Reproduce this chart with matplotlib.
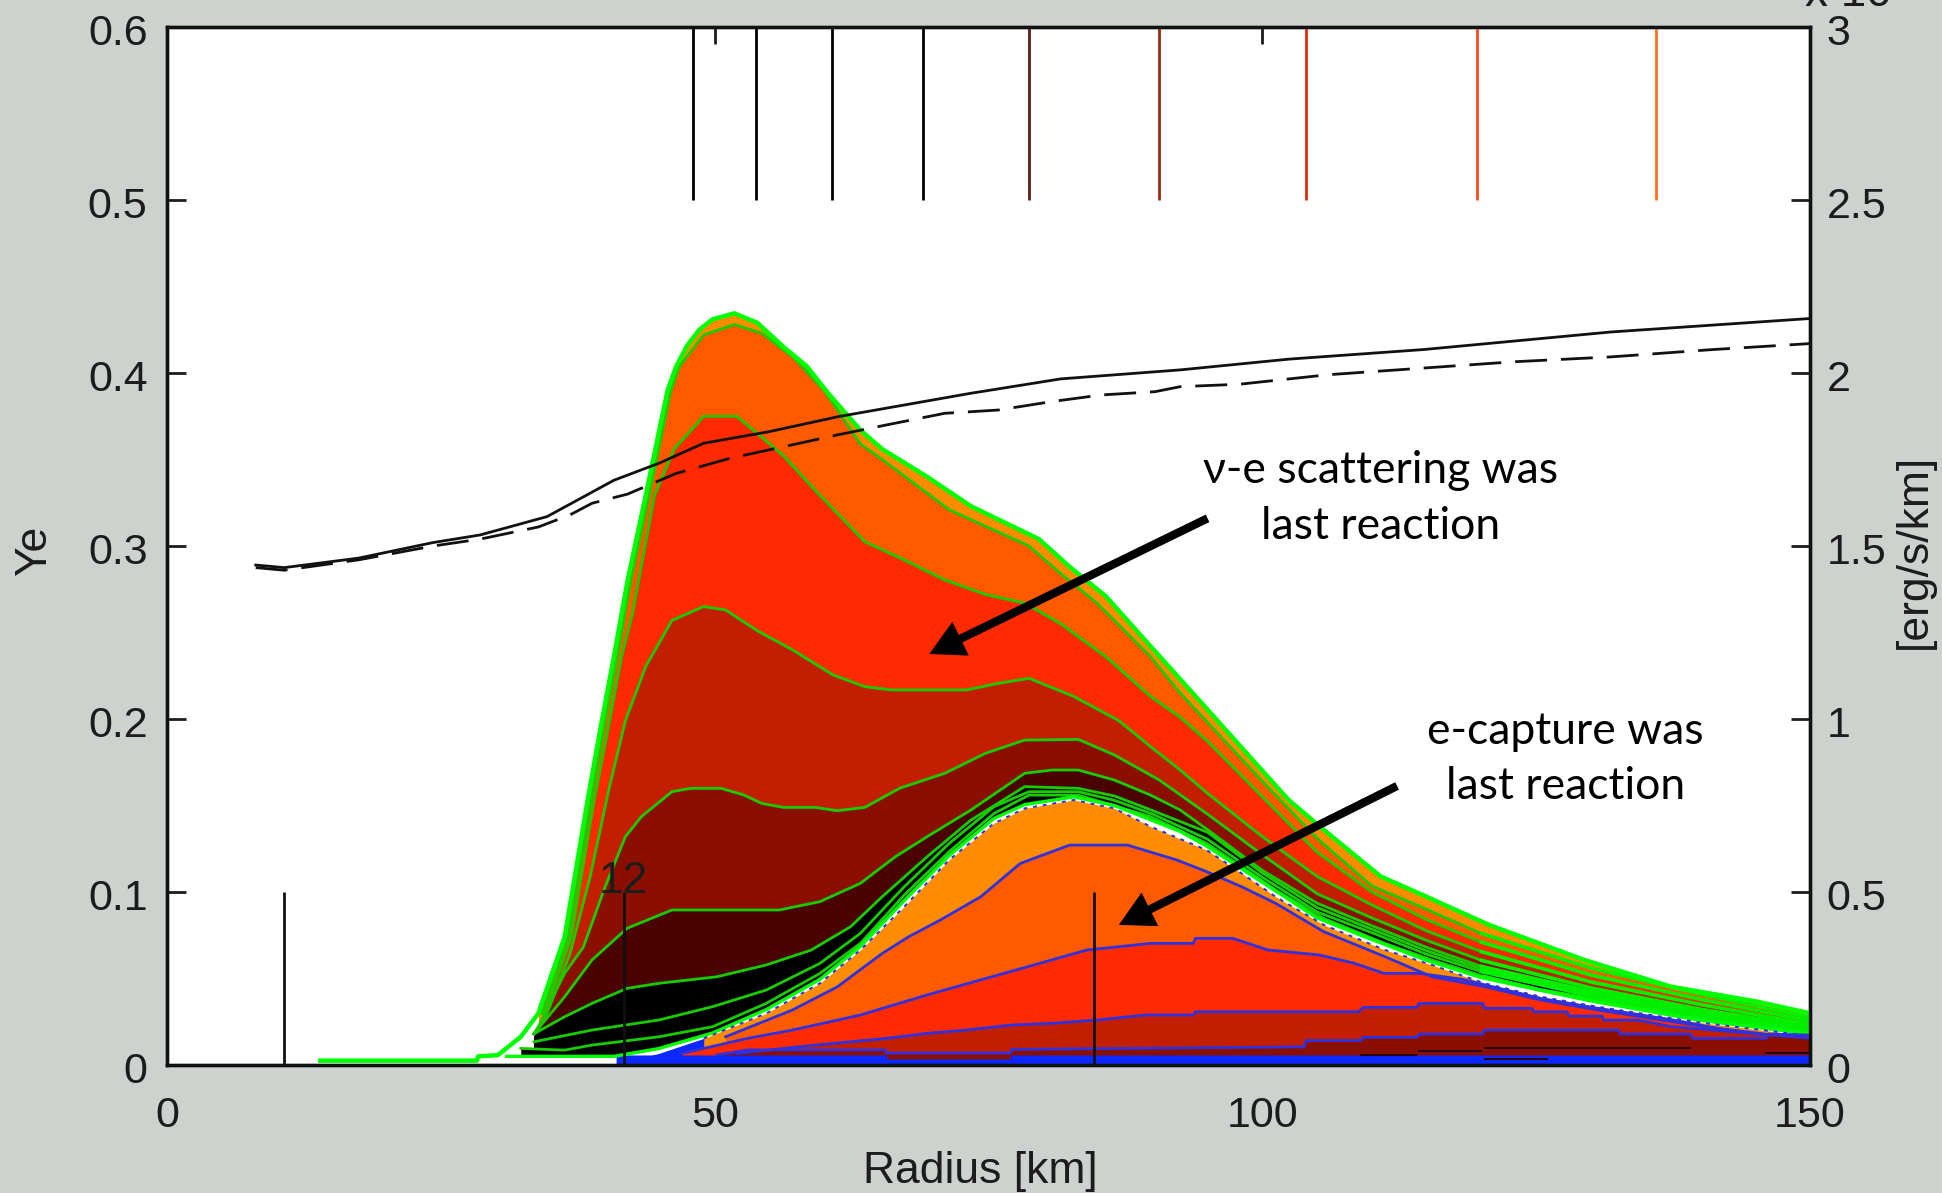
import matplotlib
matplotlib.use("Agg")
import matplotlib.pyplot as plt
from matplotlib.transforms import ScaledTranslation

# green-lined contours (nu-e scattering side)
g0_r = [14, 28.3, 28.4, 30.2, 32.3, 33.9, 36.3, 38.4, 39.6, 40.8, 42.05, 43.7, 45.7, 46.5, 47.5, 48.6, 49.8, 51.8, 53.9, 56.3, 58.4, 60.4, 63.3, 65.3, 69.4, 73.4, 79.6, 82.4, 85.7, 89.8, 92.5, 102.4, 105.6, 110.8, 114.3, 120.7, 129.4, 137.3, 145.2, 150]
g0_y = [.0025, .0025, .005, .0057, .0163, .0298, .074, .153, .1955, .236, .28, .329, .39, .404, .416, .425, .431, .4345, .429, .415, .404, .388, .367, .356, .34, .323, .304, .288, .271, .242, .223, .1532, .136, .109, .0992, .081, .0607, .0453, .0366, .0299]
g1_r = [34.2, 36.6, 38.7, 39.9, 41.1, 42.35, 44.0, 46.0, 46.8, 49, 51.8, 54.3, 57.1, 60, 63.3, 65.3, 71.4, 78.7, 81.6, 84.9, 89.8, 92.5, 95, 100, 105, 110, 115, 120, 130, 140, 150]
g1_y = [.0298, .074, .153, .1955, .236, .28, .329, .39, .404, .422, .428, .423, .4095, .39, .359, .35, .321, .3, .284, .267, .236, .215, .198, .164, .131, .1035, .09, .076, .056, .041, .0275]
g2_r = [34.5, 36.9, 39, 40.3, 41.5, 42.5, 44.5, 46.3, 49, 52, 53.9, 56.3, 59.2, 63.7, 67.3, 71, 74.7, 78.3, 81.6, 85.7, 89.8, 92.5, 95, 100, 105, 110, 115, 120, 130, 140, 150]
g2_y = [.0298, .074, .153, .1955, .236, .261, .329, .356, .375, .375, .365, .352, .332, .3025, .292, .2804, .272, .267, .255, .236, .213, .201, .187, .155, .123, .1, .084, .071, .052, .038, .0255]
g3_r = [33.5, 34.7, 36.8, 38.6, 40.4, 41.85, 43.7, 46.1, 49, 51, 53.9, 57.1, 60.8, 63.7, 66.1, 73, 75.9, 78.7, 82.8, 86.9, 89.8, 92.5, 95, 100, 105, 110, 115, 120, 130, 140, 150]
g3_y = [.018, .0298, .0645, .108, .161, .199, .2303, .257, .265, .263, .251, .24, .2255, .2187, .2168, .2168, .2206, .2235, .213, .199, .184, .1705, .157, .132, .109, .0925, .0775, .0655, .048, .035, .0235]
g4_r = [33.5, 33.9, 36.3, 38, 40, 41.85, 43.3, 46.1, 47.8, 50.6, 52.7, 54.3, 56.3, 59.2, 61.2, 63.7, 66.9, 71, 74.7, 78.3, 83.2, 86.5, 90.6, 95, 100, 105, 110, 115, 120, 130, 140, 150]
g4_y = [.018, .0221, .053, .068, .103, .132, .1435, .158, .1599, .1599, .156, .1512, .1489, .1489, .147, .1489, .16, .1686, .1801, .1878, .1882, .1792, .1647, .145, .1215, .099, .085, .072, .0605, .0445, .0322, .022]
g5_r = [33.5, 36.3, 38.8, 42, 46.1, 50.2, 55.9, 59.6, 63.3, 66.5, 69.4, 73.4, 78.3, 80.8, 83.2, 86.5, 89.8, 92.5, 95, 100, 105, 110, 115, 120, 130, 140, 150]
g5_y = [.018, .0394, .0607, .079, .0896, .0896, .0896, .0944, .105, .1204, .132, .1474, .1686, .1705, .1705, .1647, .156, .1474, .136, .1125, .0935, .0805, .068, .057, .0425, .0304, .0212]
g6_r = [33.5, 36.3, 38.8, 42, 44.9, 50.2, 54.7, 58.8, 62.4, 65.3, 69.4, 73.4, 78.3, 83.2, 86.5, 90, 95, 100, 105, 110, 115, 120, 130, 140, 150]
g6_y = [.018, .0279, .0356, .0443, .0472, .051, .0578, .0664, .0799, .0973, .1204, .1416, .1609, .1599, .1555, .147, .1345, .111, .091, .0785, .066, .0555, .0412, .0292, .0205]
g7_r = [33.5, 38.8, 44.9, 49.8, 54.7, 59.6, 63.3, 67.3, 71.4, 75.5, 78.7, 83.2, 86.5, 90, 95, 100, 105, 110, 115, 120, 130, 140, 150]
g7_y = [.0134, .0202, .026, .0337, .0433, .0587, .0761, .103, .128, .1493, .158, .158, .153, .145, .1305, .1085, .0885, .0765, .064, .054, .04, .028, .02]
g8_r = [32.3, 36.3, 38.8, 44.9, 49.8, 54.7, 59.6, 63.3, 67.3, 71.4, 75.5, 78.7, 83.2, 89.8, 94.9, 98.1, 101.2, 105.6, 111.2, 115.5, 120.3, 125.4, 130.6, 134.5, 141.3, 146, 150]
g8_y = [.0096, .0086, .0115, .0163, .0221, .0356, .0529, .0703, .0982, .1233, .1454, .156, .156, .1436, .1282, .1147, .1012, .0848, .0703, .0607, .0511, .0434, .0376, .0328, .026, .0222, .0193]
# bright green edge just above the white gap
g9_r = [31, 40.8, 44.9, 49.8, 54.7, 59.6, 63.3, 67.3, 71.4, 75.5, 78.3, 82.8, 86.5, 92.5, 95, 105, 110, 115, 120, 130, 140, 150]
g9_y = [.005, .005, .0095, .0185, .032, .0495, .0685, .095, .121, .1425, .1505, .155, .15, .135, .1262, .085, .0725, .0605, .0505, .037, .0258, .018]

# blue-lined contours (e-capture side)
wedge_r = [40.8, 41.5, 44.9, 49, 52]
wedge_y = [0, .0012, .0067, .0154, .0175]
o0_r = [49, 54.7, 59.6, 63.3, 67.3, 71.4, 75.5, 78.3, 82.8, 86.5, 89.8, 94.9, 98.1, 101.2, 105.6, 111.2, 115.5, 120.3, 125.4, 130.6, 140, 150]
o0_y = [.0154, .0298, .0472, .0664, .0915, .1185, .1397, .1483, .1532, .1483, .1378, .1243, .1108, .0973, .081, .0665, .0578, .0472, .0395, .0337, .0245, .0168]
o1_r = [51, 57.1, 61.2, 65.3, 67.7, 70.6, 74.3, 77.9, 82.4, 87.7, 92.2, 94.9, 98.1, 101.2, 105.6, 111.2, 115.5, 120.3, 125.4, 130.6, 134.5, 141.3, 146, 150]
o1_y = [.0163, .0318, .0452, .0645, .0741, .0838, .0973, .1165, .1271, .1271, .1185, .1118, .1031, .0935, .0771, .0626, .051, .0453, .0376, .0318, .028, .0212, .0174, .016]
o2_r = [47, 53, 57.1, 63.3, 69.4, 77.5, 84, 89.8, 93.7, 93.9, 97.3, 100.5, 105.2, 108.4, 111.1, 114.3, 118.3, 121.5, 125.4, 130.6, 134.5, 137.3, 141.3, 146, 150]
o2_y = [.0067, .0154, .0202, .0289, .0405, .0549, .0665, .0703, .0703, .0732, .0732, .0665, .0636, .0588, .053, .053, .0495, .0445, .0385, .0328, .029, .0262, .0215, .0178, .0158]
o3_r = [52, 59.2, 62.4, 65.7, 69.4, 73, 77.1, 80.8, 84.9, 89.3, 93.7, 93.9, 108.8, 109.2, 114.1, 114.3, 120.1, 120.3, 124.6, 124.8, 127.8, 128, 131, 131.2, 134.3, 137.3, 141, 146, 150]
o3_y = [.0067, .0115, .0134, .0154, .0183, .0202, .0231, .0241, .026, .0289, .0289, .0308, .0308, .0333, .0333, .0356, .0356, .0328, .0328, .0308, .0308, .0283, .0283, .026, .026, .0222, .0203, .0175, .0155]
o4_r = [50.2, 53, 65.6, 65.7, 77, 77.1, 103.8, 104, 109, 109.2, 114.1, 114.3, 120.1, 120.3, 132.5, 132.7, 139.1, 139.3, 146, 146.2, 150]
o4_y = [.0058, .0087, .0087, .0069, .0069, .009, .0105, .0141, .0141, .016, .016, .0179, .0179, .0202, .0202, .0179, .0179, .0154, .0154, .0179, .0173]
blue_r = [41, 65.7, 65.71, 77, 77.01, 150]
blue_y = [.0058, .0058, .0035, .0035, .0058, .0058]
# thin dark streaks inside the blue base
streak_r = [[109, 114], [114.3, 120], [120.3, 139], [120.3, 126], [146, 150]]
streak_y = [[.0055, .0055], [.0082, .0082], [.0098, .0098], [.0034, .0034], [.0068, .0068]]

# black Ye curves
ye_solid_r = [8.1, 10.7, 17.5, 24.3, 28.6, 34.7, 40.8, 44.9, 49, 54.9, 61.3, 73.4, 81.6, 92.5, 102.4, 114.8, 131.8, 150]
ye_solid_y = [.289, .2875, .293, .302, .3064, .317, .338, .3478, .3594, .366, .3748, .3883, .3966, .4018, .408, .4136, .4237, .4315]
ye_dash_r = [8.1, 10.7, 17.5, 24.3, 28.6, 33.9, 36.8, 38.8, 42.05, 46.5, 51.4, 56.3, 61.2, 65.7, 71, 75.9, 80.8, 85.3, 90.2, 92.5, 97.9, 106, 114.8, 123, 131.8, 141, 150]
ye_dash_y = [.2875, .286, .292, .3, .304, .311, .318, .3247, .33, .342, .3507, .3574, .3642, .37, .3767, .3786, .3835, .3873, .3892, .3921, .3935, .399, .4029, .4065, .4093, .4135, .417]

# vertical markers
top_mark_r = [48, 53.8, 60.7, 69, 78.7, 90.6, 104, 119.6, 135.9]
top_mark_c = ["#000000", "#000000", "#000000", "#000000", "#5a2010", "#9a2a10", "#e02a10", "#ff4a20", "#ff7020"]
bottom_mark_r = [10.7, 41.7, 84.6]

x_ticks = [0, 50, 100, 150]
y_ticks = [0, 0.1, 0.2, 0.3, 0.4, 0.5, 0.6]
y_labels = ["0", "0.1", "0.2", "0.3", "0.4", "0.5", "0.6"]
r_ticks = [0, 0.5, 1, 1.5, 2, 2.5, 3]
r_labels = ["0", "0.5", "1", "1.5", "2", "2.5", "3"]

BG = "#cdd2ce"
DARK = "#1c1c1c"
plt.rcParams["font.family"] = ["Liberation Sans", "DejaVu Sans"]

fig = plt.figure(figsize=(19.42, 11.93), dpi=100, facecolor=BG)
ax = fig.add_axes([167 / 1942, 128 / 1193, 1643 / 1942, 1038 / 1193])
ax.set_xlim(0, 150)
ax.set_ylim(0, 0.6)

# paint from the outermost contour inwards, the flat foot of g0 stays unfilled
green_layers = [
    (g0_r[5:], g0_y[5:], "#ff8c00"), (g1_r, g1_y, "#ff5a00"), (g2_r, g2_y, "#ff2a00"),
    (g3_r, g3_y, "#c41e00"), (g4_r, g4_y, "#8a0f00"), (g5_r, g5_y, "#4a0300"),
    (g6_r, g6_y, "#000000"), (g7_r, g7_y, "#000000"), (g8_r, g8_y, "#000000"),
    (g9_r, g9_y, "#ffffff"),
]
for r, y, c in green_layers:
    ax.fill_between(r, y, 0, color=c, lw=0, zorder=2)

ax.fill_between(wedge_r, wedge_y, 0, color="#0a28ff", lw=0, zorder=2)
blue_layers = [
    (o0_r, o0_y, "#ff8c00"), (o1_r, o1_y, "#ff5a00"), (o2_r, o2_y, "#ff2a00"),
    (o3_r, o3_y, "#c41e00"), (o4_r, o4_y, "#8a0f00"), (blue_r, blue_y, "#0a28ff"),
]
for r, y, c in blue_layers:
    ax.fill_between(r, y, 0, color=c, lw=0, zorder=2)

green_lines = [(g1_r, g1_y), (g2_r, g2_y), (g3_r, g3_y), (g4_r, g4_y), (g5_r, g5_y), (g6_r, g6_y), (g7_r, g7_y), (g8_r, g8_y)]
for r, y in green_lines:
    ax.plot(r, y, color="#18cc00", lw=2, zorder=3)
    # out in the tail the lines crowd together into a solid bright band
    tail_r = [v for v in r if v >= 118]
    ax.plot(tail_r, y[-len(tail_r):], color="#00f000", lw=2.6, zorder=3)
ax.plot(g9_r, g9_y, color="#00ff00", lw=2.4, zorder=3)
ax.plot(g0_r, g0_y, color="#00ff00", lw=3.2, zorder=3)
for r, y in [(o1_r, o1_y), (o2_r, o2_y), (o3_r, o3_y), (o4_r, o4_y)]:
    ax.plot(r, y, color="#3030dc", lw=2, zorder=3)
ax.plot(o0_r, o0_y, color="#3030dc", lw=1.4, ls=(0, (2, 3)), zorder=3)
for r, y in zip(streak_r, streak_y):
    ax.plot(r, y, color="#2a0510", lw=1.5, zorder=3)

ax.plot(ye_solid_r, ye_solid_y, color="#111111", lw=2, zorder=4)
ax.plot(ye_dash_r, ye_dash_y, color="#111111", lw=2, ls=(0, (11.5, 5)), zorder=4)

ax.vlines(top_mark_r, 0.5, 0.6, colors=top_mark_c, lw=2, zorder=4)
ax.vlines(bottom_mark_r, 0, 0.1, colors="#111111", lw=2, zorder=4)
ax.text(41.7, 0.094, "12", fontsize=32, color=DARK, ha="center", va="bottom", zorder=5)

arrow_style = dict(facecolor="black", edgecolor="black", width=6, headwidth=27, headlength=25, shrink=0, lw=0)
ax.annotate("", xy=(69.6, 0.2376), xytext=(95, 0.316), arrowprops=arrow_style, zorder=6)
ax.annotate("", xy=(86.9, 0.081), xytext=(112.3, 0.1613), arrowprops=arrow_style, zorder=6)
ax.text(110.8, 0.3275, "ν-e scattering was\nlast reaction", fontsize=32, color="black", ha="center", va="center",
        family=["Lato", "DejaVu Sans"], linespacing=1.48, zorder=7)
ax.text(127.7, 0.177, "e-capture was\nlast reaction", fontsize=32, color="black", ha="center", va="center",
        family=["Lato", "DejaVu Sans"], linespacing=1.42, zorder=7)

ax.set_xticks(x_ticks)
ax.set_yticks(y_ticks)
ax.set_yticklabels(y_labels)
ax.tick_params(axis="x", direction="in", length=12, width=2, labelsize=31, colors=DARK, pad=22, top=True)
ax.tick_params(axis="y", direction="in", length=14, width=2, labelsize=31, colors=DARK, pad=14)
ax.set_xlabel("Radius [km]", fontsize=32, color=DARK)
ax.xaxis.set_label_coords(0.495, -0.083)
ax.set_ylabel("Ye", fontsize=32, color=DARK)
ax.yaxis.set_label_coords(-0.068, 0.495)

ax2 = ax.twinx()
ax2.set_ylim(0, 3)
ax2.set_yticks(r_ticks)
ax2.set_yticklabels(r_labels)
ax2.tick_params(axis="y", direction="in", length=14, width=2, labelsize=31, colors=DARK, pad=12)
ax2.set_ylabel("[erg/s/km]", fontsize=32, color=DARK)
ax2.yaxis.set_label_coords(1.0512, 0.495)

# tick labels sit slightly below their ticks in the reference
nudge = ScaledTranslation(0, -2 / 72, fig.dpi_scale_trans)
for label in ax.get_yticklabels() + ax2.get_yticklabels():
    label.set_transform(label.get_transform() + nudge)

for a in (ax, ax2):
    for s in a.spines.values():
        s.set_linewidth(2.4)
        s.set_color("#111111")

# scale factor cut off by the top of the image
fig.text(1805 / 1942, 1187 / 1193, "x 10", fontsize=33, color=DARK, ha="left", va="baseline")

fig.savefig("out.png", dpi=100, facecolor=fig.get_facecolor())
